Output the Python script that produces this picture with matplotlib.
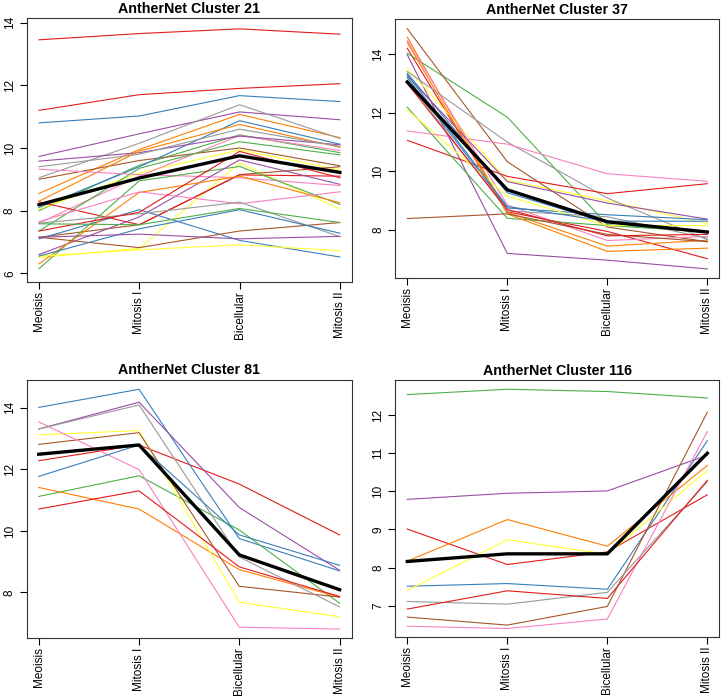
import numpy as np
import matplotlib.pyplot as plt

plt.rcParams['font.family'] = ['Liberation Sans', 'DejaVu Sans']

stages = ['Meoisis', 'Mitosis I', 'Bicellular', 'Mitosis II']

# Set1 palette, cycled in drawing order like R's matplot
set1 = ['#E41A1C', '#377EB8', '#4DAF4A', '#984EA3', '#FF7F00',
        '#FFFF33', '#A65628', '#F781BF', '#999999']

# cluster 21 (31 genes)
c21 = [
    [13.45, 13.65, 13.80, 13.63],
    [10.80, 11.02, 11.67, 11.48],
    [8.00, 9.45, 10.42, 9.85],
    [9.73, 10.45, 11.15, 10.90],
    [8.55, 9.95, 11.07, 10.33],
    [8.05, 9.20, 9.94, 9.30],
    [9.00, 9.60, 10.00, 9.43],
    [7.60, 9.10, 10.40, 9.92],
    [9.05, 10.15, 11.38, 10.30],
    [11.20, 11.70, 11.90, 12.05],
    [8.10, 9.40, 10.87, 10.12],
    [7.35, 9.35, 10.20, 9.78],
    [9.58, 9.85, 10.38, 10.10],
    [8.30, 9.90, 10.75, 10.02],
    [6.50, 6.80, 9.52, 8.05],
    [7.15, 7.55, 9.15, 9.40],
    [9.32, 9.15, 9.05, 8.80],
    [9.40, 9.80, 10.60, 10.05],
    [8.28, 7.55, 9.14, 9.10],
    [7.10, 8.03, 7.05, 6.52],
    [6.15, 8.95, 9.41, 8.20],
    [6.60, 7.80, 9.62, 8.84],
    [6.30, 8.58, 9.10, 8.25],
    [6.55, 6.75, 6.91, 6.72],
    [7.15, 6.82, 7.35, 7.62],
    [7.65, 8.60, 8.22, 8.60],
    [7.60, 7.90, 8.27, 7.17],
    [7.35, 7.95, 9.89, 9.05],
    [6.55, 7.42, 8.03, 7.28],
    [7.58, 7.55, 8.07, 7.62],
    [7.15, 7.25, 7.10, 7.18],
]
c21_mean = [8.19, 9.04, 9.75, 9.22]

# cluster 37 (20 genes)
c37 = [
    [14.20, 8.62, 7.95, 7.02],
    [13.35, 9.27, 8.25, 7.90],
    [14.03, 11.85, 8.18, 7.92],
    [13.98, 7.20, 6.97, 6.67],
    [14.58, 8.60, 7.45, 7.65],
    [13.52, 9.70, 9.00, 8.22],
    [14.87, 10.33, 8.10, 7.60],
    [14.47, 8.85, 7.64, 7.78],
    [13.41, 11.00, 9.09, 7.67],
    [11.06, 9.83, 9.24, 9.58],
    [13.20, 8.75, 8.52, 8.35],
    [12.19, 8.40, 8.15, 7.95],
    [13.25, 9.65, 8.92, 8.37],
    [14.40, 8.55, 7.27, 7.38],
    [12.10, 9.15, 8.15, 8.15],
    [8.39, 8.55, 7.85, 7.60],
    [11.38, 10.93, 9.92, 9.66],
    [13.10, 8.65, 8.45, 7.72],
    [13.00, 8.70, 7.80, 7.85],
    [13.30, 8.80, 8.30, 8.30],
]
c37_mean = [13.05, 9.37, 8.28, 7.93]

# cluster 81 (11 genes)
c81 = [
    [12.28, 12.79, 11.52, 9.87],
    [14.01, 14.60, 9.75, 8.70],
    [11.12, 11.79, 10.03, 7.65],
    [13.31, 14.18, 10.76, 8.72],
    [11.41, 10.71, 8.74, 7.85],
    [13.12, 13.26, 7.68, 7.21],
    [12.81, 13.19, 8.20, 7.85],
    [13.54, 11.99, 6.87, 6.81],
    [13.31, 14.09, 9.15, 7.53],
    [10.71, 11.30, 8.83, 7.87],
    [11.77, 12.79, 9.87, 8.88],
]
c81_mean = [12.49, 12.79, 9.22, 8.09]

# cluster 116 (10 genes)
c116 = [
    [9.01, 8.08, 8.41, 9.91],
    [7.51, 7.58, 7.43, 11.33],
    [12.54, 12.68, 12.62, 12.45],
    [9.79, 9.95, 10.01, 10.95],
    [8.17, 9.26, 8.56, 10.68],
    [7.40, 8.73, 8.35, 10.55],
    [6.70, 6.49, 6.98, 12.08],
    [6.46, 6.40, 6.65, 11.57],
    [7.11, 7.04, 7.35, 10.25],
    [6.91, 7.39, 7.19, 10.29],
]
c116_mean = [8.16, 8.36, 8.36, 11.00]

panels = [
    ('AntherNet Cluster 21', c21, c21_mean, (5.72, 14.14), [6, 8, 10, 12, 14],
     [0.0374, 0.597, 0.450, 0.377]),
    ('AntherNet Cluster 37', c37, c37_mean, (6.35, 15.19), [8, 10, 12, 14],
     [0.5475, 0.6024, 0.4488, 0.370]),
    ('AntherNet Cluster 81', c81, c81_mean, (6.51, 14.90), [8, 10, 12, 14],
     [0.037, 0.0881, 0.450, 0.369]),
    ('AntherNet Cluster 116', c116, c116_mean, (6.17, 12.92), [7, 8, 9, 10, 11, 12],
     [0.5475, 0.0896, 0.4488, 0.3674]),
]

fig = plt.figure(figsize=(7.22, 7.0), dpi=100)
x = np.arange(1, 5)

for title, genes, mean, ylim, yticks, pos in panels:
    ax = fig.add_axes(pos)
    for i, g in enumerate(genes):
        ax.plot(x, g, color=set1[i % 9], lw=0.8)
    ax.plot(x, mean, color='black', lw=2.4)
    ax.set_xlim(0.88, 4.12)
    ax.set_ylim(*ylim)
    ax.set_xticks(x)
    ax.set_xticklabels(stages, rotation=90, fontsize=8.5)
    ax.set_yticks(yticks)
    ax.set_yticklabels([str(t) for t in yticks], rotation=90, va='center', fontsize=8.5)
    ax.tick_params(axis='x', length=5, width=0.8, pad=1.5)
    ax.tick_params(axis='y', length=5, width=0.8, pad=3)
    for s in ax.spines.values():
        s.set_linewidth(0.8)
        s.set_color('#333333')
    ax.set_title(title, fontsize=10.3, fontweight='bold', pad=4)

fig.savefig('out.png', dpi=100)
